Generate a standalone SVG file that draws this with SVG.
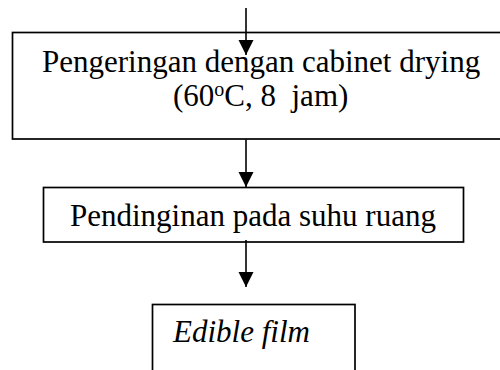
<svg xmlns="http://www.w3.org/2000/svg" width="500" height="370" viewBox="0 0 500 370">
<style>
.box{fill:#fff;stroke:#000;stroke-width:1.7}
.t{font-family:"Liberation Serif","Times New Roman",serif;font-size:31px;fill:#000}
.it{font-style:italic}
.conn line{stroke:#000;stroke-width:1.6;marker-end:url(#ah)}
</style>
<defs>
<marker id="ah" markerUnits="userSpaceOnUse" markerWidth="16" markerHeight="16" refX="15" refY="7.5" orient="auto">
<path d="M0,0 L15,7.5 L0,15 z" fill="#000"/>
</marker>
</defs>
<g id="n1">
<rect class="box" x="12.5" y="32.5" width="500" height="106.5"/>
<text class="t" x="42" y="72">Pengeringan dengan cabinet drying</text>
<text class="t" x="173" y="106" xml:space="preserve" style="white-space:pre">(60<tspan font-size="20" dy="-10">o</tspan><tspan dy="10">C, 8  jam)</tspan></text>
</g>
<g id="n2">
<rect class="box" x="43.5" y="187.5" width="420" height="54.5"/>
<text class="t" x="70" y="226">Pendinginan pada suhu ruang</text>
</g>
<g id="n3">
<rect class="box" x="152.5" y="304.5" width="202.5" height="80"/>
<text class="t it" x="173" y="342">Edible film</text>
</g>
<g id="connectors" class="conn">
<line x1="246" y1="8" x2="246" y2="55"/>
<line x1="246" y1="139.5" x2="246" y2="187"/>
<line x1="246" y1="240" x2="246" y2="287"/>
</g>
</svg>
